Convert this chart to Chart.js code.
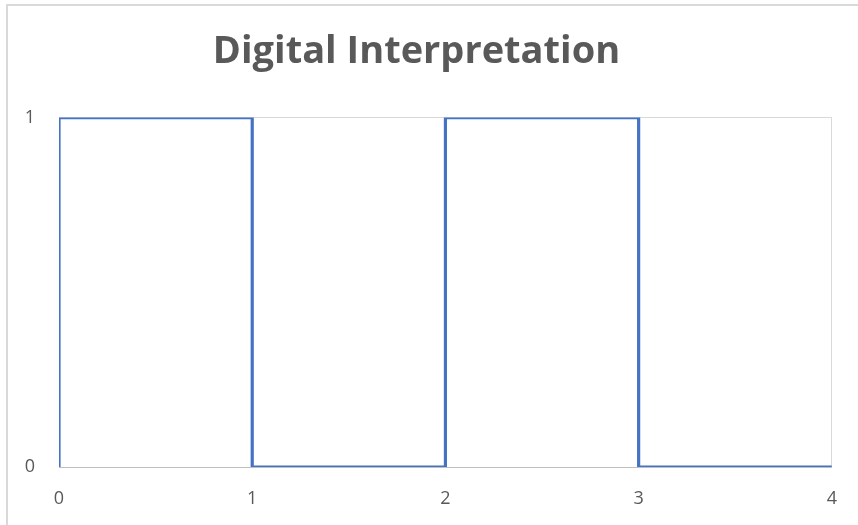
<!DOCTYPE html>
<html>
<head>
<meta charset="utf-8">
<script src="https://cdn.jsdelivr.net/npm/chart.js@4/dist/chart.umd.min.js"></script>
<style>
  body { margin: 0; background: #fff; overflow: hidden; }
  #frame { position: absolute; left: 6px; top: 4px; width: 900px; height: 560px; border: 2px solid #d9d9d9; }
  #wrap { position: absolute; left: 0; top: 0; width: 858px; height: 525px; }
</style>
</head>
<body>
<div id="frame"></div>
<div id="wrap"><canvas id="chart"></canvas></div>
<script>
// step signal points (x, y)
const xValues = [0, 0, 1, 1, 2, 2, 3, 3, 4];
const yValues = [0, 1, 1, 0, 0, 1, 1, 0, 0];
const xTicks = [0, 1, 2, 3, 4];
const yTicks = [0, 1];

const points = xValues.map((x, i) => ({ x: x, y: yValues[i] }));

new Chart(document.getElementById('chart'), {
  type: 'scatter',
  data: {
    datasets: [{
      label: 'Signal',
      data: points,
      showLine: true,
      borderColor: '#4472C4',
      borderWidth: 3.2,
      pointRadius: 0,
      tension: 0,
      borderJoinStyle: 'miter',
      borderCapStyle: 'butt'
    }]
  },
  options: {
    responsive: true,
    maintainAspectRatio: false,
    animation: false,
    layout: { padding: { left: 0, right: 25, top: 0, bottom: 0 } },
    plugins: {
      legend: { display: false },
      tooltip: { enabled: false },
      title: {
        display: true,
        text: 'Digital Interpretation',
        color: '#595959',
        font: { family: 'Open Sans', size: 38, weight: 'bold', lineHeight: 1.2 },
        padding: { top: 29, bottom: 43 }
      }
    },
    scales: {
      x: {
        type: 'linear',
        min: 0,
        max: 4,
        afterBuildTicks: (s) => { s.ticks = xTicks.map(v => ({ value: v })); },
        afterFit: (s) => { s.height = 58; },
        grid: { color: '#d9d9d9', lineWidth: 1, drawTicks: false },
        border: { display: true, color: '#bfbfbf', width: 1 },
        ticks: { color: '#595959', font: { family: 'Open Sans', size: 18 }, padding: 21 }
      },
      y: {
        type: 'linear',
        min: 0,
        max: 1,
        afterBuildTicks: (s) => { s.ticks = yTicks.map(v => ({ value: v })); },
        afterFit: (s) => { s.width = 59; },
        grid: { color: (c) => c.tick.value === 0 ? '#bfbfbf' : '#d9d9d9', lineWidth: 1, drawTicks: false },
        border: { display: false },
        ticks: { color: '#595959', font: { family: 'Open Sans', size: 18 }, padding: 24 }
      }
    }
  }
});
</script>
</body>
</html>
